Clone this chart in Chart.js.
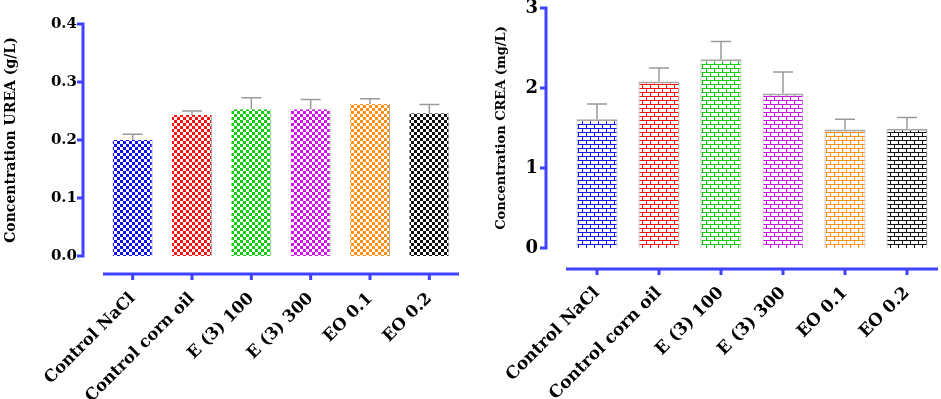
<!DOCTYPE html>
<html>
<head>
<meta charset="utf-8">
<script src="https://cdn.jsdelivr.net/npm/chart.js@4.4.1/dist/chart.umd.min.js"></script>
<style>
  html, body { margin: 0; padding: 0; background: #fff; }
  #wrap { position: relative; width: 941px; height: 399px; }
  .box { position: absolute; top: 0; height: 399px; }
</style>
</head>
<body>
<div id="wrap">
  <div class="box" style="left:0;width:470px"><canvas id="urea-chart"></canvas></div>
  <div class="box" style="left:470px;width:471px"><canvas id="crea-chart"></canvas></div>
</div>
<script>
const groups = ["Control NaCl", "Control corn oil", "E (3) 100", "E (3) 300", "EO 0.1", "EO 0.2"];
const barColors = ["#1010f5", "#ff1010", "#10cc10", "#d010e8", "#ff9010", "#101010"];

const ureaValues = [0.2, 0.243, 0.253, 0.253, 0.262, 0.246];
const ureaSD = [0.01, 0.007, 0.02, 0.017, 0.009, 0.015];
const ureaTicks = [0.0, 0.1, 0.2, 0.3, 0.4];

const creaValues = [1.61, 2.08, 2.36, 1.93, 1.48, 1.49];
const creaSD = [0.19, 0.17, 0.22, 0.27, 0.13, 0.14];
const creaTicks = [0, 1, 2, 3];

const axisBlue = "#4040ff";
const serif = "'DejaVu Serif', serif";

// checkerboard fill for the urea bars
const checker = (color) => {
  const c = document.createElement("canvas");
  c.width = 6;
  c.height = 6;
  const g = c.getContext("2d");
  g.fillStyle = "#fff";
  g.fillRect(0, 0, 6, 6);
  g.fillStyle = color;
  g.fillRect(0, 0, 3, 3);
  g.fillRect(3, 3, 3, 3);
  return g.createPattern(c, "repeat");
};

// brick fill for the crea bars
const brick = (color) => {
  const c = document.createElement("canvas");
  c.width = 8;
  c.height = 8;
  const g = c.getContext("2d");
  g.fillStyle = "#fff";
  g.fillRect(0, 0, 8, 8);
  g.fillStyle = color;
  g.fillRect(0, 0, 8, 1);
  g.fillRect(0, 4, 8, 1);
  g.fillRect(0, 0, 1, 4);
  g.fillRect(4, 4, 1, 4);
  return g.createPattern(c, "repeat");
};

// GraphPad style detached axes and upper error bars
const prismAxes = {
  id: "prismAxes",
  afterDatasetsDraw(chart, args, opts) {
    const { ctx, chartArea, scales } = chart;
    const y = scales.y;
    ctx.save();

    // error bars
    const meta = chart.getDatasetMeta(0);
    ctx.strokeStyle = "#9a9a9a";
    ctx.lineWidth = 1.5;
    meta.data.forEach((bar, i) => {
      const top = y.getPixelForValue(opts.values[i] + opts.sd[i]);
      const base = y.getPixelForValue(opts.values[i]);
      ctx.beginPath();
      ctx.moveTo(bar.x, base);
      ctx.lineTo(bar.x, top);
      ctx.moveTo(bar.x - 10, top);
      ctx.lineTo(bar.x + 10, top);
      ctx.stroke();
    });

    ctx.strokeStyle = axisBlue;
    ctx.lineWidth = 3;
    ctx.lineCap = "butt";

    // y axis
    const ax = chartArea.left - opts.yGap;
    ctx.beginPath();
    ctx.moveTo(ax, y.getPixelForValue(y.max) - 1.5);
    ctx.lineTo(ax, y.getPixelForValue(y.min) + 1.5);
    opts.ticks.forEach((t) => {
      const py = y.getPixelForValue(t);
      ctx.moveTo(ax, py);
      ctx.lineTo(ax - 6, py);
    });
    ctx.stroke();

    // x axis
    const ay = chartArea.bottom + opts.xGap;
    ctx.beginPath();
    ctx.moveTo(chartArea.left, ay);
    ctx.lineTo(chartArea.right, ay);
    meta.data.forEach((bar) => {
      ctx.moveTo(bar.x, ay);
      ctx.lineTo(bar.x, ay + 6);
    });
    ctx.stroke();
    ctx.restore();
  },
};

const makeChart = (el, cfg) =>
  new Chart(el, {
    type: "bar",
    data: {
      labels: groups,
      datasets: [
        {
          data: cfg.values,
          backgroundColor: barColors.map(cfg.fill),
          borderColor: "#a8a8a8",
          borderWidth: cfg.border,
          borderSkipped: "bottom",
          categoryPercentage: 1,
          barPercentage: cfg.barPct,
        },
      ],
    },
    options: {
      responsive: true,
      maintainAspectRatio: false,
      animation: false,
      events: [],
      layout: { padding: { left: 0, right: cfg.padRight, top: cfg.padTop, bottom: 0 } },
      plugins: {
        legend: { display: false },
        tooltip: { enabled: false },
        prismAxes: {
          values: cfg.values,
          sd: cfg.sd,
          ticks: cfg.ticks,
          yGap: 20,
          xGap: cfg.xGap,
        },
      },
      scales: {
        x: {
          grid: { display: false, tickLength: 0 },
          border: { display: false },
          afterFit: (s) => {
            s.height = cfg.xHeight;
            s.paddingLeft = 0;
            s.paddingRight = 0;
          },
          ticks: {
            autoSkip: false,
            maxRotation: 45,
            minRotation: 45,
            padding: cfg.xPad,
            color: "#000",
            font: { family: serif, weight: "bold", size: cfg.xFont },
          },
        },
        y: {
          min: 0,
          max: cfg.ticks[cfg.ticks.length - 1],
          grid: { display: false, tickLength: cfg.yPad },
          border: { display: false },
          afterFit: (s) => {
            s.width = cfg.yWidth;
            s.paddingTop = 0;
            s.paddingBottom = 0;
          },
          afterBuildTicks: (s) => { s.ticks = cfg.ticks.map((v) => ({ value: v })); },
          ticks: {
            padding: 0,
            color: "#000",
            font: { family: serif, weight: "bold", size: cfg.yFont },
            callback: cfg.fmt,
          },
          title: {
            display: true,
            text: cfg.title,
            color: "#000",
            padding: { top: cfg.titlePad, bottom: 0 },
            font: { family: serif, weight: "bold", size: cfg.titleFont },
          },
        },
      },
    },
    plugins: [prismAxes],
  });

makeChart(document.getElementById("urea-chart"), {
  values: ureaValues,
  sd: ureaSD,
  ticks: ureaTicks,
  fill: checker,
  border: { top: 0, left: 0, right: 1, bottom: 0 },
  barPct: 0.675,
  padRight: 11,
  padTop: 24,
  xHeight: 143,
  xGap: 18,
  xPad: 33,
  xFont: 16.5,
  yWidth: 103,
  yPad: 26,
  yFont: 15,
  fmt: (v) => v.toFixed(1),
  title: "Concentration UREA (g/L)",
  titlePad: 3,
  titleFont: 14,
});

makeChart(document.getElementById("crea-chart"), {
  values: creaValues,
  sd: creaSD,
  ticks: creaTicks,
  fill: brick,
  border: { top: 2, left: 1, right: 1, bottom: 0 },
  barPct: 0.66,
  padRight: 3,
  padTop: 8,
  xHeight: 151,
  xGap: 21,
  xPad: 35,
  xFont: 17,
  yWidth: 96,
  yPad: 28,
  yFont: 18,
  fmt: (v) => String(v),
  title: "Concentration CREA (mg/L)",
  titlePad: 24,
  titleFont: 13,
});
</script>
</body>
</html>
